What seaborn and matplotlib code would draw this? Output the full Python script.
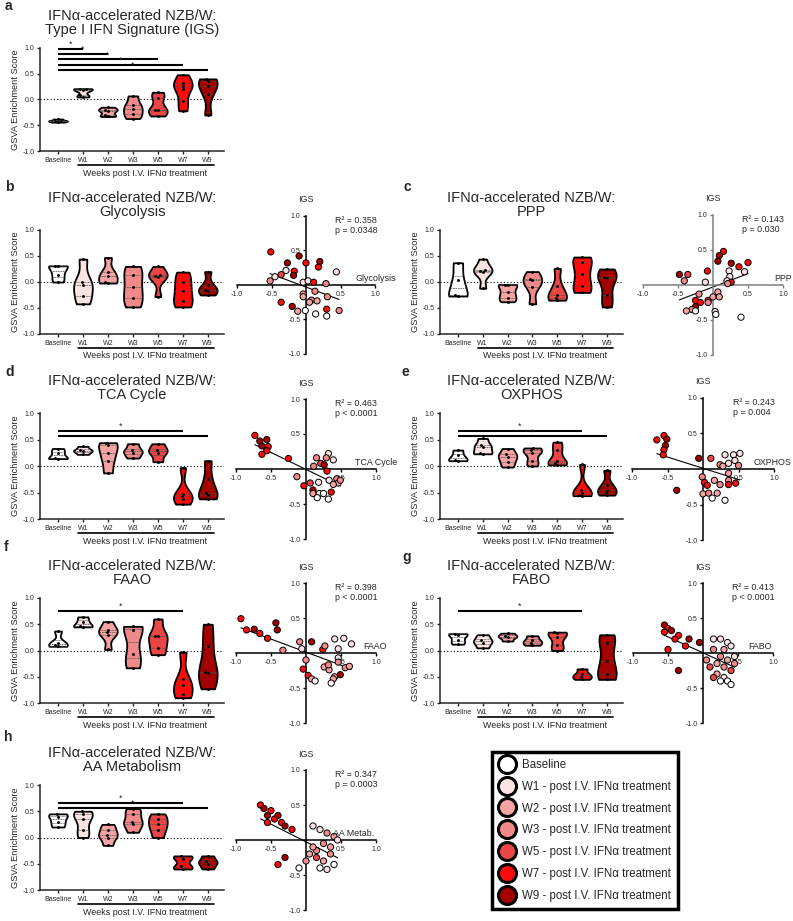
import numpy as np
import pandas as pd
import matplotlib
matplotlib.use("Agg")
import matplotlib.pyplot as plt
import matplotlib.transforms as mtransforms
from matplotlib.lines import Line2D
import seaborn as sns

# groups and colours
groups = ["Baseline", "W1", "W2", "W3", "W5", "W7", "W9"]
colors = ["#FFFFFF", "#FCE3E3", "#F5A3A3", "#F08A8A", "#EA4646", "#FF0A0A", "#A30000"]
legend_labels = ["Baseline"] + [g + " - post I.V. IFN\u03b1 treatment" for g in groups[1:]]

# GSVA enrichment scores per group (Baseline, W1, W2, W3, W5, W7, W9)
igs = [[-0.38, -0.41, -0.42, -0.44],
       [0.05, 0.08, 0.18, 0.20, 0.21],
       [-0.15, -0.20, -0.22, -0.30, -0.33],
       [0.07, -0.10, -0.18, -0.28, -0.37],
       [0.14, 0.03, -0.20, -0.21, -0.32],
       [0.48, 0.33, 0.27, 0.20, -0.03, -0.22],
       [0.40, 0.35, 0.27, 0.10, -0.30]]
glycolysis = [[0.00, 0.14, 0.30, 0.31],
              [0.44, 0.00, -0.05, -0.27, -0.42],
              [0.47, 0.20, 0.12, 0.00, -0.02],
              [0.30, 0.13, -0.10, -0.30, -0.48],
              [0.30, 0.13, 0.10, 0.12, -0.28],
              [0.19, 0.00, -0.18, -0.36, -0.48],
              [0.20, -0.05, -0.15, -0.18, -0.25]]
ppp = [[0.37, 0.03, -0.25, -0.27],
       [0.44, 0.23, 0.20, 0.22, -0.12],
       [-0.05, -0.06, -0.20, -0.30, -0.38],
       [0.20, 0.05, 0.03, -0.10, -0.42],
       [0.26, -0.07, -0.25, -0.30, -0.35],
       [0.48, 0.38, 0.15, -0.08, -0.20],
       [0.25, 0.10, 0.07, -0.25, -0.48]]
tca = [[0.33, 0.25, 0.15, 0.14],
       [0.37, 0.30, 0.28, 0.22],
       [0.44, 0.40, 0.25, 0.10, -0.13],
       [0.42, 0.30, 0.25, 0.15],
       [0.42, 0.30, 0.25, 0.08],
       [-0.03, -0.52, -0.57, -0.62, -0.72],
       [0.10, -0.25, -0.50, -0.55, -0.62]]
oxphos = [[0.30, 0.20, 0.12, 0.10],
          [0.52, 0.40, 0.35, 0.25, 0.23],
          [0.33, 0.22, 0.17, 0.08, -0.02],
          [0.34, 0.30, 0.25, 0.10, 0.00],
          [0.45, 0.30, 0.10, 0.05, 0.02],
          [0.03, -0.45, -0.50, -0.55, -0.56],
          [-0.08, -0.35, -0.45, -0.50, -0.55]]
faao = [[0.37, 0.15, 0.10, 0.08],
        [0.64, 0.55, 0.47, 0.45],
        [0.55, 0.40, 0.35, 0.30, 0.02],
        [0.46, 0.40, -0.07, -0.33],
        [0.60, 0.27, 0.27, 0.05, -0.08],
        [-0.03, -0.55, -0.65, -0.83, -0.90],
        [0.50, 0.08, -0.40, -0.42, -0.73]]
fabo = [[0.12, 0.20, 0.30, 0.32],
        [0.05, 0.15, 0.20, 0.30],
        [0.18, 0.25, 0.28, 0.33],
        [0.10, 0.15, 0.20, 0.28],
        [0.00, 0.10, 0.25, 0.35, 0.34],
        [-0.35, -0.45, -0.50, -0.55],
        [0.30, 0.15, -0.20, -0.45, -0.55]]
aa_metab = [[0.20, 0.30, 0.40, 0.45],
            [0.00, 0.15, 0.35, 0.45, 0.50],
            [-0.15, 0.00, 0.05, 0.15, 0.25],
            [0.10, 0.25, 0.30, 0.45, 0.55],
            [0.00, 0.15, 0.25, 0.35, 0.45],
            [-0.60, -0.55, -0.40, -0.35],
            [-0.60, -0.50, -0.45, -0.35]]

# IGS vs pathway correlations: x = pathway score, y = IGS score, g = group index
glyc_x = [-0.51, -0.10, -0.27, 0.00, 0.20, 0.18, -0.29, -0.17, -0.36, -0.18, 0.44, -0.45, -0.52, -0.04, 0.03, 0.11,
          0.29, 0.13, -0.04, -0.04, 0.31, 0.08, 0.16, 0.05, -0.36, -0.20, 0.30, 0.48, -0.12, -0.01, 0.14, 0.30]
glyc_y = [0.48, 0.42, 0.32, 0.32, 0.34, 0.26, 0.21, 0.20, 0.15, 0.14, 0.19, 0.12, 0.06, 0.04, 0.06, 0.04,
          0.02, -0.09, -0.13, -0.17, -0.17, -0.22, -0.23, -0.25, -0.25, -0.31, -0.35, -0.37, -0.38, -0.37, -0.42, -0.45]
glyc_g = [5, 6, 6, 5, 6, 5, 1, 5, 4, 6, 1, 1, 3, 1, 1, 5, 3, 3, 2, 2, 3, 3, 2, 2, 5, 6, 5, 3, 2, 0, 0, 0]

ppp_x = [0.15, 0.09, 0.07, 0.26, 0.50, 0.37, -0.48, -0.36, -0.41, -0.08, -0.11, 0.45, 0.23, 0.24, 0.20, 0.26,
         0.21, -0.20, 0.07, 0.00, 0.09, -0.07, -0.25, -0.18, -0.25, -0.07, -0.30, -0.38, -0.25, 0.03, 0.04, 0.40]
ppp_y = [0.48, 0.42, 0.34, 0.31, 0.32, 0.26, 0.15, 0.15, 0.06, 0.20, 0.04, 0.19, 0.20, 0.12, 0.06, 0.04,
         0.02, -0.13, -0.10, -0.17, -0.17, -0.22, -0.22, -0.25, -0.31, -0.25, -0.35, -0.37, -0.37, -0.38, -0.42, -0.46]
ppp_g = [5, 6, 6, 6, 5, 5, 6, 4, 3, 5, 1, 1, 1, 1, 1, 5, 3, 3, 2, 2, 2, 5, 5, 5, 6, 3, 3, 2, 0, 1, 0, 0]

tca_x = [-0.73, -0.56, -0.66, -0.63, -0.54, -0.56, -0.63, -0.25, 0.15, 0.32, 0.29, 0.21, 0.26, 0.11, 0.39, 0.30,
         -0.13, -0.03, 0.06, 0.10, 0.10, 0.19, 0.16, 0.25, 0.32, 0.36, 0.33, 0.44, 0.46, 0.39, 0.49, 0.18]
tca_y = [0.48, 0.42, 0.40, 0.33, 0.32, 0.26, 0.21, 0.15, 0.16, 0.22, 0.16, 0.08, 0.06, 0.04, 0.13, -0.03,
         -0.11, -0.24, -0.20, -0.30, -0.35, -0.35, -0.41, -0.35, -0.43, -0.33, -0.16, -0.14, -0.20, -0.22, -0.16, -0.19]
tca_g = [5, 6, 6, 6, 5, 5, 5, 5, 3, 1, 3, 4, 6, 3, 1, 5, 3, 5, 4, 6, 2, 1, 0, 0, 0, 5, 1, 3, 2, 2, 3, 1]

oxphos_x = [-0.55, -0.51, -0.65, -0.53, -0.55, -0.56, -0.06, 0.11, 0.24, 0.31, 0.43, 0.52, 0.45, 0.50, 0.28, 0.36,
            -0.01, 0.02, 0.06, 0.16, 0.24, 0.36, 0.36, 0.36, 0.46, -0.37, 0.00, 0.08, 0.13, 0.20, 0.31]
oxphos_y = [0.47, 0.42, 0.41, 0.33, 0.27, 0.20, 0.15, 0.15, 0.06, 0.20, 0.20, 0.22, 0.12, 0.05, 0.04, 0.08,
            -0.11, -0.19, -0.23, -0.16, -0.22, -0.06, -0.16, -0.22, -0.20, -0.30, -0.35, -0.34, -0.41, -0.34, -0.44]
oxphos_g = [5, 6, 5, 6, 5, 5, 6, 4, 3, 1, 1, 1, 1, 3, 2, 1, 3, 5, 5, 2, 3, 2, 3, 5, 5, 6, 2, 3, 0, 2, 0]

faao_x = [-0.93, -0.85, -0.74, -0.66, -0.55, -0.43, -0.41, -0.33, -0.09, -0.06, 0.08, 0.24, 0.27, 0.41, 0.54, 0.65,
          0.46, 0.00, -0.04, 0.26, 0.33, 0.32, 0.46, 0.46, 0.41, 0.39, 0.56, 0.62, 0.49, 0.03, 0.08, 0.13, 0.36]
faao_y = [0.49, 0.33, 0.34, 0.28, 0.21, 0.43, 0.33, 0.04, 0.16, 0.06, 0.16, 0.05, 0.10, 0.20, 0.21, 0.13,
          0.06, -0.10, -0.23, -0.20, -0.24, -0.17, -0.07, -0.13, -0.34, -0.37, -0.21, -0.19, -0.31, -0.32, -0.37, -0.40, -0.43]
faao_g = [5, 5, 6, 5, 5, 6, 6, 3, 3, 1, 6, 5, 3, 1, 1, 1, 1, 3, 5, 2, 2, 3, 1, 3, 2, 2, 3, 2, 6, 5, 2, 0, 0]

fabo_x = [-0.55, -0.50, -0.55, -0.45, -0.35, -0.40, -0.20, -0.25, -0.50, -0.05, -0.35, 0.15, 0.25, 0.35, 0.30, 0.40,
          0.15, 0.25, 0.35, 0.45, 0.20, 0.30, 0.40, 0.45, 0.10, 0.20, 0.30, 0.35, 0.25, 0.40, 0.15, 0.05]
fabo_y = [0.40, 0.35, 0.30, 0.32, 0.25, 0.20, 0.20, 0.10, 0.05, 0.15, -0.25, 0.20, 0.20, 0.15, 0.05, 0.10,
          0.05, -0.05, -0.10, -0.05, -0.15, -0.20, -0.25, -0.15, -0.20, -0.30, -0.35, -0.40, -0.40, -0.45, -0.35, -0.10]
fabo_g = [6, 5, 5, 6, 5, 5, 6, 5, 5, 6, 6, 1, 1, 1, 2, 1, 3, 3, 2, 1, 2, 3, 4, 3, 4, 2, 1, 0, 0, 0, 4, 3]

aa_x = [-0.65, -0.60, -0.50, -0.55, -0.45, -0.40, -0.35, -0.55, -0.30, -0.20, 0.10, 0.20, 0.30, 0.40, 0.45, 0.25,
        0.35, 0.15, -0.40, -0.30, 0.00, -0.10, 0.05, 0.15, 0.25, 0.35, 0.40, 0.20, 0.30, 0.10]
aa_y = [0.50, 0.45, 0.42, 0.35, 0.30, 0.35, 0.25, 0.25, 0.20, 0.15, 0.20, 0.15, 0.10, 0.05, 0.00, -0.05,
        -0.10, -0.15, -0.35, -0.25, -0.30, -0.40, -0.20, -0.25, -0.30, -0.20, -0.35, -0.40, -0.42, -0.10]
aa_g = [5, 6, 5, 6, 5, 6, 5, 5, 6, 5, 1, 1, 3, 2, 1, 3, 2, 3, 5, 6, 3, 0, 2, 4, 2, 3, 0, 0, 1, 2]

# figure setup
sns.set_theme(style="ticks")
plt.rcParams["font.family"] = ["Liberation Sans", "DejaVu Sans"]
plt.rcParams["axes.unicode_minus"] = False

W, H = 793, 921
fig = plt.figure(figsize=(W / 100, H / 100), dpi=100)
palette = dict(zip(groups, colors))


def px_axes(x0, y0, x1, y1):
    return fig.add_axes([x0 / W, 1 - y1 / H, (x1 - x0) / W, (y1 - y0) / H])


def shifted(trans, dy):
    return mtransforms.offset_copy(trans, fig=fig, x=0, y=dy, units="dots")


def violin_panel(ax, data, title2, sig):
    df = pd.DataFrame([(g, v) for g, vals in zip(groups, data) for v in vals], columns=["group", "score"])
    ax.axhline(0, color="black", lw=0.8, ls=(0, (1, 2)), zorder=0.5)
    sns.violinplot(data=df, x="group", y="score", hue="group", order=groups, hue_order=groups,
                   palette=palette, saturation=1, cut=0, bw_adjust=0.7, width=0.75,
                   density_norm="width", inner="quart", inner_kws=dict(linewidth=0.5, color="0.3"),
                   linewidth=1.3, linecolor="black", legend=False, ax=ax)
    sns.swarmplot(data=df, x="group", y="score", order=groups, color="black", size=2.1, ax=ax)
    ax.set_xlim(-0.72, 6.65)
    ax.set_ylim(-1, 1)
    ax.set_yticks([-1, -0.5, 0, 0.5, 1])
    ax.set_yticklabels(["-1.0", "-0.5", "0.0", "0.5", "1.0"])
    ax.set_xlabel("")
    ax.set_ylabel("GSVA Enrichment Score", fontsize=6.7, labelpad=2)
    sns.despine(ax=ax)
    for s in ["left", "bottom"]:
        ax.spines[s].set_linewidth(1.1)
    ax.tick_params(labelsize=5, length=2.5, width=1, pad=1.5)
    # significance bars vs Baseline
    for k, yb in sig:
        ax.plot([0, k], [yb, yb], color="black", lw=1.5, solid_capstyle="butt", clip_on=False)
        ax.text(k / 2, yb, "*", ha="center", va="bottom", fontsize=6.5)
    # weeks bracket
    xt = ax.get_xaxis_transform()
    ax.plot([0.8, 6.25], [0, 0], color="black", lw=1.2, transform=shifted(xt, -14), clip_on=False)
    ax.text(3.5, 0, "Weeks post I.V. IFN\u03b1 treatment", ha="center", va="center", fontsize=6.4,
            transform=shifted(xt, -22))
    ax.text(0.5, 1, "IFN\u03b1-accelerated NZB/W:", ha="center", va="center", fontsize=10.5,
            transform=shifted(ax.transAxes, 32))
    ax.text(0.5, 1, title2, ha="center", va="center", fontsize=10.5,
            transform=shifted(ax.transAxes, 18))


def scatter_panel(ax, x, y, g, xlabel, xlab_pos, r2, p, axis_color="black"):
    df = pd.DataFrame({"x": x, "y": y, "group": [groups[i] for i in g]})
    sns.regplot(data=df, x="x", y="y", scatter=False, ci=None, truncate=True, color="black",
                line_kws=dict(lw=0.8, zorder=2), ax=ax)
    sns.scatterplot(data=df, x="x", y="y", hue="group", hue_order=groups, palette=palette, s=20,
                    edgecolor="black", linewidth=0.7, legend=False, ax=ax, zorder=3, clip_on=False)
    ax.set_xlim(-1, 1)
    ax.set_ylim(-1, 1)
    ax.spines["left"].set_position(("data", 0))
    ax.spines["bottom"].set_position(("data", 0))
    ax.spines["top"].set_visible(False)
    ax.spines["right"].set_visible(False)
    for s in ["left", "bottom"]:
        ax.spines[s].set_color(axis_color)
        ax.spines[s].set_linewidth(1.1)
    ticks = [-1, -0.5, 0.5, 1]
    ax.set_xticks(ticks)
    ax.set_yticks(ticks)
    ax.set_xticklabels(["-1.0", "-0.5", "0.5", "1.0"])
    ax.set_yticklabels(["-1.0", "-0.5", "0.5", "1.0"])
    ax.tick_params(labelsize=5, length=2.5, width=1, pad=1.5, color=axis_color)
    ax.set_xlabel("")
    ax.set_ylabel("")
    ax.text(0.5, 1, "IGS", ha="center", va="center", fontsize=6.4, transform=shifted(ax.transAxes, 16))
    ax.text(0.71, 1.0, "R\u00b2 = " + r2 + "\np " + p, ha="left", va="top", fontsize=6.4,
            linespacing=1.2, transform=ax.transAxes)
    ax.text(xlab_pos, 0.03, xlabel, ha="left", va="bottom", fontsize=6.4,
            transform=ax.get_yaxis_transform())


# violin panels (left, top, right, bottom in px)
ax_a = px_axes(40, 48, 224, 151)
violin_panel(ax_a, igs, "Type I IFN Signature (IGS)",
             [(1, 0.98), (2, 0.88), (4, 0.78), (5, 0.67), (6, 0.57)])
ax_b = px_axes(40, 230, 224, 334)
violin_panel(ax_b, glycolysis, "Glycolysis", [])
ax_c = px_axes(440, 230, 623, 334)
violin_panel(ax_c, ppp, "PPP", [])
ax_d = px_axes(40, 413, 224, 519)
violin_panel(ax_d, tca, "TCA Cycle", [(5, 0.66), (6, 0.56)])
ax_e = px_axes(440, 413, 623, 519)
violin_panel(ax_e, oxphos, "OXPHOS", [(5, 0.66), (6, 0.56)])
ax_f = px_axes(40, 598, 224, 703)
violin_panel(ax_f, faao, "FAAO", [(5, 0.76)])
ax_g = px_axes(440, 598, 623, 703)
violin_panel(ax_g, fabo, "FABO", [(5, 0.76)])
ax_h = px_axes(40, 785, 224, 890)
violin_panel(ax_h, aa_metab, "AA Metabolism", [(5, 0.66), (6, 0.56)])

# correlation panels
scatter_panel(px_axes(237, 216, 375, 354), glyc_x, glyc_y, glyc_g, "Glycolysis", 0.86, "0.358", "= 0.0348")
scatter_panel(px_axes(643, 215, 783, 355), ppp_x, ppp_y, ppp_g, "PPP", 0.94, "0.143", "= 0.030", "0.5")
scatter_panel(px_axes(236, 399, 376, 539), tca_x, tca_y, tca_g, "TCA Cycle", 0.85, "0.463", "< 0.0001")
scatter_panel(px_axes(632, 398, 774, 540), oxphos_x, oxphos_y, oxphos_g, "OXPHOS", 0.86, "0.243", "= 0.004")
scatter_panel(px_axes(236, 583, 376, 723), faao_x, faao_y, faao_g, "FAAO", 0.91, "0.398", "< 0.0001")
scatter_panel(px_axes(633, 583, 773, 723), fabo_x, fabo_y, fabo_g, "FABO", 0.82, "0.413", "< 0.0001")
scatter_panel(px_axes(236, 770, 376, 910), aa_x, aa_y, aa_g, "AA Metab.", 0.69, "0.347", "= 0.0003")

# panel letters
for letter, (lx, ly) in zip("abcdefgh", [(5, 6), (5, 187), (403, 187), (5, 372), (402, 372),
                                         (4, 547), (402, 557), (4, 737)]):
    fig.text(lx / W, 1 - ly / H, letter, fontsize=10, fontweight="bold", ha="left", va="center")

# legend
handles = [Line2D([], [], ls="", marker="o", markersize=13, markerfacecolor=c, markeredgecolor="black",
                  markeredgewidth=2.2) for c in colors]
leg = fig.legend(handles, legend_labels, loc="upper left", bbox_to_anchor=(492 / W, 1 - 752 / H),
                 fontsize=8.3, frameon=True, fancybox=False, framealpha=1, handlelength=1.4,
                 handletextpad=0.6, labelspacing=0.85, borderpad=0.6, borderaxespad=0)
leg.get_frame().set_linewidth(2.5)
leg.get_frame().set_edgecolor("black")

fig.savefig("out.png", dpi=100)
